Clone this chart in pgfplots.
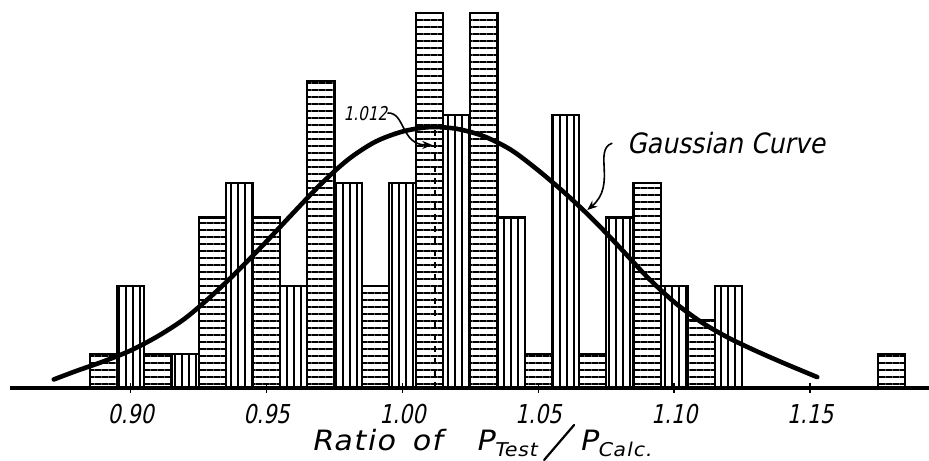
\documentclass[border=0pt]{standalone}
\usepackage{fontspec}
\setmainfont{DejaVu Sans}[FakeSlant=0.2, FakeStretch=0.9]
\newfontfamily\tickfont{DejaVu Sans}[FakeSlant=0.2, FakeStretch=0.8]
\newfontfamily\labelfont{DejaVu Sans}[FakeSlant=0.2, FakeStretch=1.08, LetterSpace=5]
\usepackage{pgfplots}
\pgfplotsset{compat=1.18}
\usetikzlibrary{patterns.meta, arrows.meta}

\begin{document}
\begin{tikzpicture}
\begin{axis}[
  scale only axis,
  width=459.5pt, height=194pt,
  xmin=0.85559, xmax=1.19375,
  ymin=0, ymax=11.378,
  axis x line=bottom, axis y line=none,
  x axis line style={-, line width=1.6pt},
  xtick={0.90,0.95,1.00,1.05,1.10,1.15},
  xticklabels={0.90,0.95,1.00,1.05,1.10,1.15},
  major tick length=5pt, tick align=center,
  tick style={line width=0.8pt, black},
  xticklabel style={font=\tickfont\fontsize{13}{15}\selectfont, anchor=base, yshift=-15.5pt, inner sep=1pt},
  xlabel={\labelfont\fontsize{14}{16}\selectfont Ratio\hspace{0.6em}of\hspace{1.2em}P\raisebox{-0.2em}{\fontsize{9.5}{10}\selectfont Test}\hspace{3pt}\tikz[baseline=0pt]\draw[line width=1.1pt,line cap=round] (0,-4.5pt) -- (15pt,13pt);\hspace{2pt}P\raisebox{-0.2em}{\fontsize{9.5}{10}\selectfont Calc.}},
  xlabel style={at={(axis description cs:0.5,0)}, anchor=base, yshift=-31.5pt, xshift=6pt, inner sep=1pt},
  clip=false,
]
% horizontally hatched bars
\addplot[ybar, bar width=0.01, bar shift=0pt, draw=black, line width=1.1pt,
  pattern={Lines[angle=0,distance=3.5pt,line width=1.2pt]}]
  coordinates {(0.89,1) (0.91,1) (0.93,5) (0.95,5) (0.97,9) (0.99,3) (1.01,11)
               (1.03,11) (1.05,1) (1.07,1) (1.09,6) (1.11,2) (1.18,1)};
% vertically hatched bars
\addplot[ybar, bar width=0.01, bar shift=0pt, draw=black, line width=1.1pt,
  pattern={Lines[angle=90,distance=3.5pt,line width=1.2pt]}]
  coordinates {(0.90,3) (0.92,1) (0.94,6) (0.96,3) (0.98,6) (1.00,6) (1.02,8)
               (1.04,5) (1.06,8) (1.08,5) (1.10,3) (1.12,3)};
% mean line
\addplot[dashed, line width=0.8pt] coordinates {(1.012,0) (1.012,7.7)};
% Gaussian curve
\addplot[smooth, line width=2.3pt, line cap=round] coordinates {
  (0.8717,0.25) (0.88,0.50) (0.89,0.78) (0.90,1.10) (0.91,1.52) (0.92,2.04)
  (0.93,2.72) (0.94,3.48) (0.95,4.30) (0.96,5.15) (0.97,5.98) (0.98,6.70)
  (0.99,7.22) (1.00,7.52) (1.01,7.65) (1.02,7.60) (1.03,7.38) (1.04,6.98)
  (1.05,6.38) (1.06,5.70) (1.07,4.95) (1.08,4.12) (1.09,3.26) (1.10,2.52)
  (1.11,1.93) (1.12,1.47) (1.13,1.09) (1.14,0.74) (1.1526,0.32)};
% annotations
\node[font=\tickfont\fontsize{9.5}{11}\selectfont] at (axis cs:0.9864,8.035) {1.012};
\draw[line width=0.8pt, -{Stealth[length=5pt,width=4pt]}]
  (axis cs:0.9945,8.065) .. controls (axis cs:1.0011,8.09) and (axis cs:0.9993,7.126) .. (axis cs:1.0110,7.126);
\node[font=\fontsize{14}{16}\selectfont] at (axis cs:1.1191,7.17) {Gaussian Curve};
\draw[line width=0.8pt, -{Stealth[length=5pt,width=4pt]}]
  (axis cs:1.0772,7.18) .. controls (axis cs:1.0700,6.98) and (axis cs:1.0790,5.95) .. (axis cs:1.0680,5.22);
\end{axis}
\pgfresetboundingbox
\path ([xshift=-5pt,yshift=-36.5pt]current axis.south west) rectangle (current axis.north east);
\end{tikzpicture}
\end{document}
